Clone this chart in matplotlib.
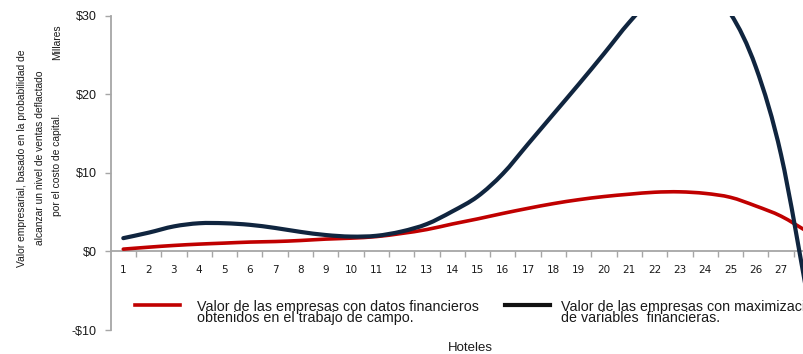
import matplotlib
matplotlib.use("Agg")
import matplotlib.pyplot as plt
from matplotlib.path import Path
from matplotlib.patches import PathPatch
from matplotlib.lines import Line2D
import numpy as np

# Hotel index on the category axis
hoteles = list(range(1, 29))

# Firm value with financial data gathered in the field (thousands of $)
valor_campo = [0.3, 0.55, 0.77, 0.94, 1.07, 1.2, 1.27, 1.4, 1.58, 1.7,
               1.9, 2.3, 2.8, 3.5, 4.15, 4.85, 5.5, 6.1, 6.6, 7.0,
               7.3, 7.55, 7.6, 7.4, 6.9, 5.8, 4.5, 2.6]

# Firm value with maximised financial variables (thousands of $)
valor_max = [1.7, 2.4, 3.2, 3.6, 3.6, 3.4, 3.0, 2.5, 2.1, 1.9,
             2.0, 2.55, 3.5, 5.1, 7.0, 9.9, 13.7, 17.5, 21.3, 25.2,
             29.2, 32.5, 34.0, 33.5, 30.3, 23.5, 12.3, -5.0]

y_ticks = [-10, 0, 10, 20, 30]
y_tick_labels = ["-$10", "$0", "$10", "$20", "$30"]

label_campo = "Valor de las empresas con datos financieros\nobtenidos en el trabajo de campo."
label_max = "Valor de las empresas con maximización\nde variables  financieras."
ylabel_lines = ["Valor empresarial, basado en la probabilidad de",
                "alcanzar un nivel de ventas deflactado",
                "por el costo de capital."]

RED = "#C00000"
NAVY = "#10253F"
GRAY = "#A6A6A6"
TXT = "#1a1a1a"
SANS = ["Liberation Sans", "DejaVu Sans"]


def smooth_path(xs, ys):
    """Bezier path through the points (Catmull-Rom style smoothing)."""
    pts = np.column_stack([xs, ys]).astype(float)
    n = len(pts)
    verts = [pts[0]]
    codes = [Path.MOVETO]
    for i in range(n - 1):
        p0 = pts[i - 1] if i > 0 else pts[i]
        p1 = pts[i]
        p2 = pts[i + 1]
        p3 = pts[i + 2] if i + 2 < n else pts[i + 1]
        c1 = p1 + (p2 - p0) / 6.0
        c2 = p2 - (p3 - p1) / 6.0
        verts += [c1, c2, p2]
        codes += [Path.CURVE4] * 3
    return Path(verts, codes)


W, H = 804, 354
X_LO, X_HI = 0.514, 28.5
PX_PER_CAT = 25.3
ax_left = 111
ax_width = (X_HI - X_LO) * PX_PER_CAT   # runs past the right edge of the canvas

fig = plt.figure(figsize=(W / 100, H / 100), dpi=100)
ax = fig.add_axes([ax_left / W, 1 - 330 / H, ax_width / W, (330 - 16) / H])

ax.add_patch(PathPatch(smooth_path(hoteles, valor_campo), fill=False,
                       edgecolor=RED, lw=2.6, capstyle="round", zorder=3))
ax.add_patch(PathPatch(smooth_path(hoteles, valor_max), fill=False,
                       edgecolor=NAVY, lw=3.0, capstyle="round", zorder=4))

# Axes styling
for s in ("top", "right"):
    ax.spines[s].set_visible(False)
ax.spines["bottom"].set_position(("data", 0))
ax.spines["left"].set_color(GRAY)
ax.spines["bottom"].set_color(GRAY)
ax.spines["left"].set_linewidth(1.3)
ax.spines["bottom"].set_linewidth(1.3)

ax.set_yticks(y_ticks)
ax.set_yticklabels(y_tick_labels, fontfamily=SANS, fontsize=9, color=TXT)
ax.tick_params(axis="y", direction="out", length=4, width=1, color=GRAY, pad=6.5)

ax.set_xticks(hoteles)
ax.set_xticklabels([str(h) for h in hoteles], fontfamily="DejaVu Sans",
                   fontsize=7.5, color=TXT)
ax.set_xticks(np.arange(0.5, 28.6, 1.0), minor=True)
ax.tick_params(axis="x", which="major", length=0, pad=10)
ax.tick_params(axis="x", which="minor", direction="out", length=4, width=1, color=GRAY)

# view limits last, so the tick setters cannot widen them
ax.set_xlim(X_LO, X_HI)
ax.set_ylim(-10, 30)

# Legend drawn below the category labels
leg_y = 1 - 305 / H
fig.add_artist(Line2D([135 / W, 180 / W], [leg_y, leg_y], color=RED, lw=2.6))
fig.add_artist(Line2D([505 / W, 550 / W], [leg_y, leg_y], color="#111111", lw=3.0))
fig.text(197 / W, 1 - 299.5 / H, label_campo, ha="left", va="top",
         fontfamily=SANS, fontsize=10.3, linespacing=0.8, color=TXT)
fig.text(561 / W, 1 - 299.5 / H, label_max, ha="left", va="top",
         fontfamily=SANS, fontsize=10.3, linespacing=0.8, color=TXT)

# Axis titles
fig.text(470 / W, 1 - 348 / H, "Hoteles", ha="center", va="center",
         fontfamily=SANS, fontsize=9.5, color=TXT)
for xpix, ypix, line in zip([22, 40, 57], [158, 158, 165], ylabel_lines):
    fig.text(xpix / W, 1 - ypix / H, line, ha="center", va="center", rotation=90,
             fontfamily=SANS, fontsize=7.4, color=TXT)
fig.text(57 / W, 1 - 42 / H, "Millares", ha="center", va="center", rotation=90,
         fontfamily=SANS, fontsize=7.4, color=TXT)

fig.savefig("out.png", dpi=100)
